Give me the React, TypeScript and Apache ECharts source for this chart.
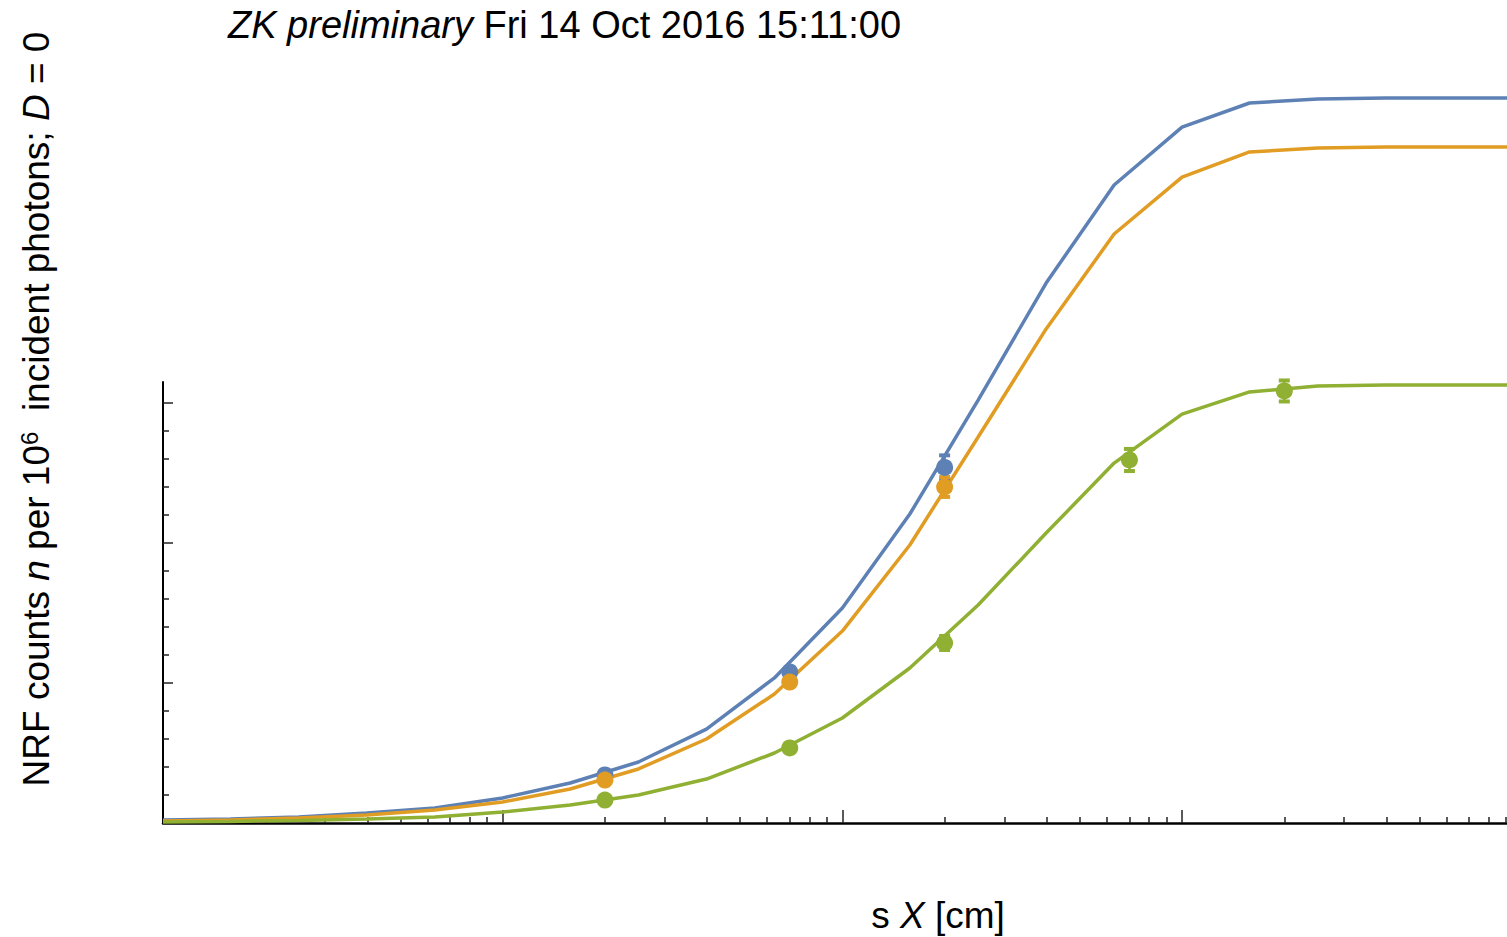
import React, { useEffect, useRef } from 'react';
import * as echarts from 'echarts';

// ---- data ----
const xCurve = [0.1, 0.158, 0.251, 0.398, 0.631, 1, 1.58, 2.51, 3.98, 6.31, 10, 15.8, 25.1, 39.8, 63.1, 100, 158, 251, 398, 631, 905];
const blueCurve = [0.021, 0.029, 0.043, 0.071, 0.107, 0.179, 0.286, 0.436, 0.671, 1.036, 1.536, 2.207, 3.021, 3.857, 4.557, 4.971, 5.143, 5.171, 5.179, 5.179, 5.179];
const orangeCurve = [0.014, 0.021, 0.036, 0.057, 0.093, 0.15, 0.243, 0.386, 0.6, 0.921, 1.371, 1.986, 2.757, 3.529, 4.207, 4.614, 4.793, 4.821, 4.829, 4.829, 4.829];
const greenCurve = [0.007, 0.011, 0.018, 0.029, 0.043, 0.079, 0.129, 0.2, 0.314, 0.5, 0.75, 1.107, 1.557, 2.071, 2.571, 2.921, 3.079, 3.121, 3.129, 3.129, 3.129];

const xBluePts = [2, 7, 20];
const bluePts = [0.343, 1.079, 2.54];
const blueErr = [0.02, 0.03, 0.086];

const xOrangePts = [2, 7, 20];
const orangePts = [0.307, 1.007, 2.4];
const orangeErr = [0.02, 0.03, 0.071];

const xGreenPts = [2, 7, 20, 70, 200];
const greenPts = [0.164, 0.536, 1.286, 2.593, 3.086];
const greenErr = [0.01, 0.02, 0.05, 0.079, 0.075];

const xMajorTicks = [1, 10, 100];
const xMinorTicks = [0.2, 0.3, 0.4, 0.5, 0.6, 0.7, 0.8, 0.9, 2, 3, 4, 5, 6, 7, 8, 9, 20, 30, 40, 50, 60, 70, 80, 90, 200, 300, 400, 500, 600, 700, 800, 900];
const yMajorTicks = [1, 2, 3];
const yMinorTicks = [0.2, 0.4, 0.6, 0.8, 1.2, 1.4, 1.6, 1.8, 2.2, 2.4, 2.6, 2.8];

const X_MIN = 0.1;
const X_MAX = 905;
const Y_MIN = 0;
const Y_MAX = 3.15;

const BLUE = '#5E81B5';
const ORANGE = '#E19C24';
const GREEN = '#8FB032';
const FONT = "'Liberation Sans', Arial, sans-serif";

function curve(name: string, xs: number[], ys: number[], color: string) {
  return {
    name,
    type: 'line',
    data: xs.map((x, i) => [x, ys[i]]),
    symbol: 'none',
    showSymbol: false,
    clip: false,
    z: 3,
    lineStyle: { color, width: 3.5 },
    itemStyle: { color },
  };
}

function errBars(name: string, xs: number[], ys: number[], es: number[], color: string) {
  return {
    name,
    type: 'custom',
    clip: false,
    z: 4,
    data: xs.map((x, i) => [x, ys[i], es[i]]),
    encode: { x: 0, y: 1 },
    renderItem: (params: any, api: any) => {
      const x = api.value(0);
      const y = api.value(1);
      const e = api.value(2);
      const top = api.coord([x, y + e]);
      const bot = api.coord([x, y - e]);
      return {
        type: 'group',
        children: [
          { type: 'line', shape: { x1: top[0], y1: top[1], x2: bot[0], y2: bot[1] }, style: { stroke: color, lineWidth: 2.5 } },
          { type: 'line', shape: { x1: top[0] - 5.5, y1: top[1], x2: top[0] + 5.5, y2: top[1] }, style: { stroke: color, lineWidth: 4 } },
          { type: 'line', shape: { x1: bot[0] - 5.5, y1: bot[1], x2: bot[0] + 5.5, y2: bot[1] }, style: { stroke: color, lineWidth: 4 } },
        ],
      };
    },
  };
}

function points(name: string, xs: number[], ys: number[], color: string) {
  return {
    name,
    type: 'scatter',
    data: xs.map((x, i) => [x, ys[i]]),
    symbol: 'circle',
    symbolSize: 17,
    clip: false,
    z: 5,
    itemStyle: { color, opacity: 1 },
  };
}

const tickStyle = { color: '#222', width: 1.5 };

const option: any = {
  animation: false,
  backgroundColor: '#ffffff',
  grid: { left: 163, right: 0, top: 382, bottom: 114, containLabel: false },
  xAxis: [
    {
      type: 'log', logBase: 10, min: X_MIN, max: X_MAX, position: 'bottom',
      axisLine: { show: true, onZero: false, lineStyle: { color: '#000', width: 2.5 } },
      axisTick: { show: true, inside: true, length: 13, customValues: xMajorTicks, lineStyle: tickStyle },
      minorTick: { show: false },
      axisLabel: { show: false },
      splitLine: { show: false },
    },
    {
      type: 'log', logBase: 10, min: X_MIN, max: X_MAX, position: 'bottom', offset: 0,
      axisLine: { show: false, onZero: false },
      axisTick: { show: true, inside: true, length: 6, customValues: xMinorTicks, lineStyle: tickStyle },
      minorTick: { show: false },
      axisLabel: { show: false },
      splitLine: { show: false },
    },
  ],
  yAxis: [
    {
      type: 'value', min: Y_MIN, max: Y_MAX, position: 'left',
      axisLine: { show: true, onZero: false, lineStyle: { color: '#000', width: 2 } },
      axisTick: { show: true, inside: true, length: 10, customValues: yMajorTicks, lineStyle: tickStyle },
      minorTick: { show: false },
      axisLabel: { show: false },
      splitLine: { show: false },
    },
    {
      type: 'value', min: Y_MIN, max: Y_MAX, position: 'left', offset: 0,
      axisLine: { show: false, onZero: false },
      axisTick: { show: true, inside: true, length: 6, customValues: yMinorTicks, lineStyle: tickStyle },
      minorTick: { show: false },
      axisLabel: { show: false },
      splitLine: { show: false },
    },
  ],
  series: [
    curve('blue', xCurve, blueCurve, BLUE),
    curve('orange', xCurve, orangeCurve, ORANGE),
    curve('green', xCurve, greenCurve, GREEN),
    errBars('blueErr', xBluePts, bluePts, blueErr, BLUE),
    points('bluePts', xBluePts, bluePts, BLUE),
    errBars('orangeErr', xOrangePts, orangePts, orangeErr, ORANGE),
    points('orangePts', xOrangePts, orangePts, ORANGE),
    errBars('greenErr', xGreenPts, greenPts, greenErr, GREEN),
    points('greenPts', xGreenPts, greenPts, GREEN),
  ],
  graphic: [
    {
      type: 'text',
      x: 228,
      y: 25,
      style: {
        text: '{i|ZK preliminary} Fri 14 Oct 2016 15:11:00',
        fontSize: 38,
        fontFamily: FONT,
        fill: '#000',
        verticalAlign: 'middle',
        align: 'left',
        rich: {
          i: { fontStyle: 'italic', fontSize: 38, fontFamily: FONT, fill: '#000' },
        },
      },
    },
    {
      type: 'text',
      x: 36,
      y: 409,
      rotation: Math.PI / 2,
      style: {
        text: '{t|NRF counts }{i|n}{t| per 10}{s|6}{t|  incident photons; }{i|D}{t| = 0}',
        fontSize: 37,
        fontFamily: FONT,
        fill: '#000',
        align: 'center',
        verticalAlign: 'middle',
        rich: {
          t: { fontSize: 37, fontFamily: FONT, fill: '#000' },
          i: { fontSize: 37, fontFamily: FONT, fontStyle: 'italic', fill: '#000' },
          s: { fontSize: 24, fontFamily: FONT, fill: '#000', verticalAlign: 'top' },
        },
      },
    },
    {
      type: 'text',
      x: 938,
      y: 915,
      style: {
        text: '{t|s }{i|X}{t| [cm]}',
        fontSize: 37,
        fontFamily: FONT,
        fill: '#000',
        align: 'center',
        verticalAlign: 'middle',
        rich: {
          t: { fontSize: 37, fontFamily: FONT, fill: '#000' },
          i: { fontSize: 37, fontFamily: FONT, fontStyle: 'italic', fill: '#000' },
        },
      },
    },
  ],
};

export default function App() {
  const ref = useRef<HTMLDivElement>(null);
  useEffect(() => {
    const chart = echarts.init(ref.current as HTMLDivElement, null, { renderer: 'svg' });
    chart.setOption(option);
    return () => chart.dispose();
  }, []);
  return (
    <div
      ref={ref}
      style={{ position: 'fixed', left: 0, top: 0, width: 1507, height: 937, background: '#fff' }}
    />
  );
}
